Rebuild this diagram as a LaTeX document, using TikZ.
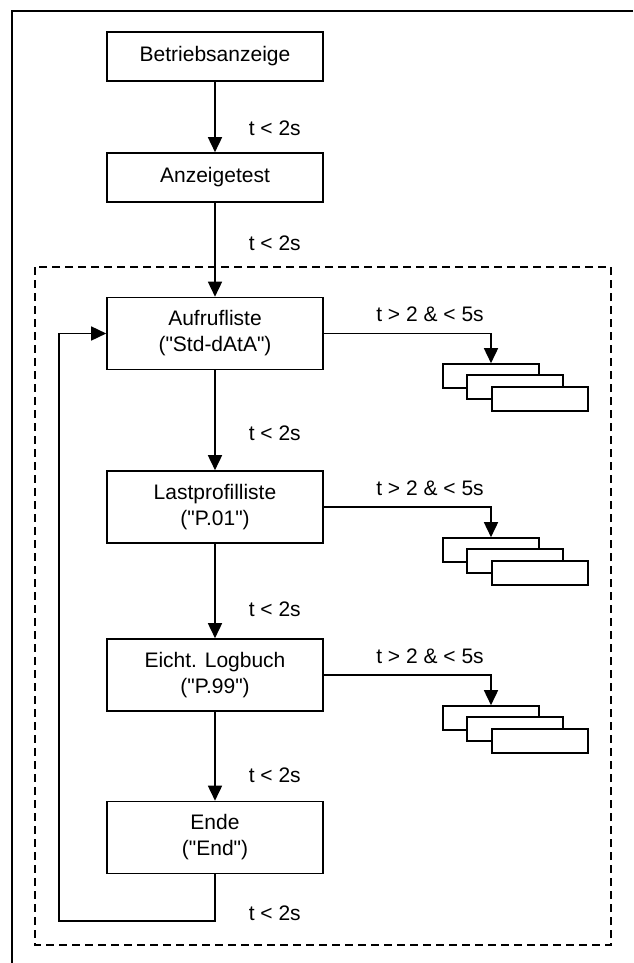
\documentclass[tikz,border=0pt]{standalone}
\usepackage{fontspec}
\setmainfont{Liberation Sans}
\usetikzlibrary{arrows.meta}

\begin{document}
\begin{tikzpicture}[x=1pt,y=-1pt,line width=1.6pt,
    every node/.style={font=\fontsize{21}{26}\selectfont},
    statebox/.style={draw,align=center,minimum width=216pt,minimum height=72pt,inner sep=0pt},
    shortbox/.style={statebox,minimum height=49pt},
    listbox/.style={draw,fill=white,minimum width=96pt,minimum height=24pt,inner sep=0pt},
    flow/.style={-{Triangle[width=14pt,length=15pt]}},
    cond/.style={anchor=west,inner sep=0pt},
    longcond/.style={inner sep=0pt}]
      \useasboundingbox (0,0) rectangle (633,963);
      \draw (633,11) -- (12,11) -- (12,963);
      \draw [dash pattern=on 8pt off 5pt] (35,267) rectangle (611,945);
      % main chain
      \node [shortbox] (betrieb) at (215,56.5) {Betriebsanzeige};
      \node [shortbox] (test) at (215,177.5) {Anzeigetest};
      \node [statebox] (aufruf) at (215,333.5) {Aufrufliste\\(\textquotedbl Std-dAtA\textquotedbl)};
      \node [statebox] (lastprofil) at (215,507) {Lastprofilliste\\(\textquotedbl P.01\textquotedbl)};
      \node [statebox] (logbuch) at (215,675) {Eicht. Logbuch\\(\textquotedbl P.99\textquotedbl)};
      \node [statebox] (ende) at (215,837.5) {Ende\\(\textquotedbl End\textquotedbl)};
      \draw [flow] (betrieb) -- (test);
      \draw [flow] (test) -- (aufruf);
      \draw [flow] (aufruf) -- (lastprofil);
      \draw [flow] (lastprofil) -- (logbuch);
      \draw [flow] (logbuch) -- (ende);
      \coordinate (loopcorner) at (59,921);
      \draw [flow] (ende.south) |- (loopcorner) |- (aufruf.west);
      \node [cond] (c1) at (248,128) {t < 2s};
      \node [cond] (c2) at (248,243) {t < 2s};
      \node [cond] (c3) at (248,433) {t < 2s};
      \node [cond] (c4) at (248,609) {t < 2s};
      \node [cond] (c5) at (248,775) {t < 2s};
      \node [cond] (c6) at (248,913) {t < 2s};
      % side lists
      \node [listbox] (aufruf1) at (491,376) {};
      \node [listbox] (aufruf2) at (515,387) {};
      \node [listbox] (aufruf3) at (540,399) {};
      \draw [flow] (aufruf.east) -| (aufruf1.north);
      \node [longcond] (s1) at (430,314) {t > 2 \& < 5s};
      \node [listbox] (lastprofil1) at (491,550) {};
      \node [listbox] (lastprofil2) at (515,561) {};
      \node [listbox] (lastprofil3) at (540,573) {};
      \draw [flow] (lastprofil.east) -| (lastprofil1.north);
      \node [longcond] (s2) at (430,488) {t > 2 \& < 5s};
      \node [listbox] (logbuch1) at (491,718) {};
      \node [listbox] (logbuch2) at (515,729) {};
      \node [listbox] (logbuch3) at (540,741) {};
      \draw [flow] (logbuch.east) -| (logbuch1.north);
      \node [longcond] (s3) at (430,656) {t > 2 \& < 5s};
\end{tikzpicture}
\end{document}
